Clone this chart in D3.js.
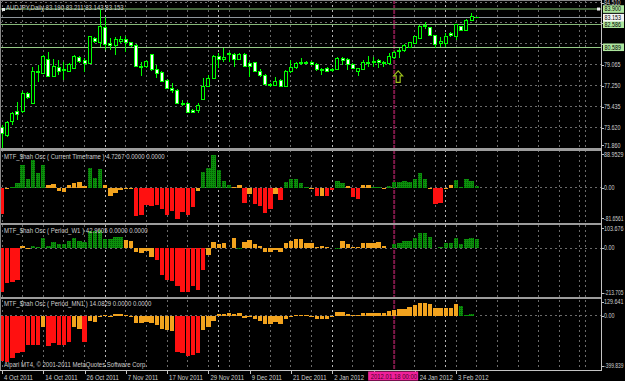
<!DOCTYPE html>
<html>
<head>
<meta charset="utf-8">
<script src="https://cdn.jsdelivr.net/npm/d3@7/dist/d3.min.js"></script>
<style>
	body { margin: 0; background: #000; }
	svg { display: block; }
	text { font-family: 'Liberation Sans', Arial, sans-serif; font-size: 7px; }
	text.ax { font-size: 6.4px; }
</style>
</head>
<body>
<script>
// AUDJPY daily, bar 0 = 4 Oct 2011
const open = [73.62, 72.98, 74.14, 74.98, 75.01, 76.59, 75.73, 78.47, 78.33, 79.54, 78.04, 78.82, 78.56, 78.53, 78.76, 79.71, 79.40, 79.19, 81.36, 80.98, 82.31, 80.93, 80.70, 81.07, 81.30, 80.98, 80.78, 78.85, 78.90, 79.92, 78.62, 78.41, 77.69, 77.03, 76.88, 75.73, 75.73, 75.09, 75.09, 76.07, 77.17, 77.89, 79.77, 79.54, 80.06, 79.92, 79.54, 79.92, 79.19, 79.25, 78.53, 78.13, 77.40, 77.26, 77.69, 77.23, 78.47, 78.82, 79.19, 79.31, 79.28, 79.11, 78.56, 78.76, 78.59, 78.67, 79.63, 79.54, 79.11, 78.47, 78.67, 79.22, 79.25, 79.43, 79.22, 79.14, 79.71, 80.35, 80.29, 80.58, 80.93, 81.36, 82.49, 82.31, 81.59, 80.93, 80.93, 81.79, 81.56, 82.37, 82.03, 82.95, 83.190]
const high = [73.85, 74.23, 75.01, 75.87, 76.83, 76.71, 78.90, 79.05, 79.92, 80.21, 79.54, 79.48, 79.34, 79.19, 79.92, 79.83, 79.63, 81.56, 81.51, 83.90, 83.18, 81.36, 81.51, 81.56, 81.56, 81.07, 80.87, 79.34, 79.48, 79.97, 79.05, 78.56, 77.81, 77.46, 77.00, 76.02, 75.84, 75.21, 75.73, 77.89, 78.18, 79.92, 80.06, 80.49, 80.21, 80.06, 80.12, 80.06, 79.34, 79.34, 78.67, 78.27, 77.52, 78.04, 77.81, 78.62, 79.48, 79.34, 79.63, 79.43, 79.40, 79.19, 78.76, 78.85, 78.82, 79.71, 79.77, 79.63, 79.19, 78.82, 79.48, 79.83, 79.71, 79.54, 79.37, 80.12, 80.29, 80.49, 80.84, 81.07, 81.59, 82.52, 82.80, 82.37, 81.68, 81.51, 81.79, 81.94, 82.60, 82.46, 83.04, 83.59, 83.211]
const low = [71.88, 72.78, 73.85, 74.28, 74.92, 76.13, 75.67, 77.61, 78.27, 77.98, 77.98, 78.18, 77.75, 78.44, 78.70, 79.25, 78.47, 79.14, 80.93, 80.64, 80.35, 80.35, 79.92, 80.93, 80.21, 80.64, 78.85, 78.10, 78.76, 78.56, 77.89, 77.61, 76.94, 76.59, 75.64, 75.50, 74.86, 74.86, 74.92, 76.02, 77.11, 77.81, 78.76, 79.34, 79.34, 78.90, 79.48, 78.85, 78.04, 78.41, 77.98, 77.32, 77.11, 77.20, 77.11, 77.17, 78.38, 78.73, 79.05, 79.11, 79.02, 78.53, 78.18, 78.44, 78.47, 78.62, 79.05, 78.62, 78.67, 78.10, 78.62, 78.90, 78.90, 78.76, 78.90, 79.05, 79.54, 79.63, 80.21, 80.49, 80.84, 81.27, 82.20, 81.59, 80.55, 80.64, 80.64, 81.45, 81.22, 81.99, 81.97, 82.86, 83.143]
const close = [73.13, 74.05, 74.86, 74.74, 76.59, 76.25, 78.47, 78.36, 79.77, 78.04, 78.90, 78.53, 78.67, 79.11, 79.77, 79.34, 79.19, 81.51, 81.07, 82.37, 80.87, 80.78, 81.22, 81.22, 80.98, 80.78, 78.90, 78.96, 79.34, 78.62, 78.33, 77.66, 77.03, 76.88, 75.73, 75.61, 74.92, 74.92, 75.50, 77.23, 77.89, 79.83, 79.54, 79.69, 79.92, 79.57, 79.97, 78.90, 78.96, 78.47, 78.13, 77.37, 77.29, 77.66, 77.23, 78.53, 78.82, 79.19, 79.31, 79.22, 79.11, 78.62, 78.67, 78.53, 78.70, 79.63, 79.48, 79.11, 78.76, 78.76, 79.28, 79.31, 79.34, 79.25, 79.31, 79.77, 80.15, 80.21, 80.70, 80.98, 81.51, 82.43, 82.37, 81.65, 80.84, 81.07, 81.56, 81.62, 82.52, 82.08, 82.95, 83.24, 83.153]

// MTF_$hah Osc, three timeframes; colour code g = green, o = orange, r = red
const oscCur = [-63, -0.8, 2, 12, 55, 22, 67, 35, 55, 7.6, 10, -7.6, -10, 7.6, 11, 13.5, 5, 49, 24, 45, 6, -19, -12, -6, -4, -4, -69, -67, -41, -44, -41, -51, -65, -56, -75, -58, -67, -47, -8, 37, 47, 79, 43, 17, 6, 3, 7, -36, -15, -40, -44, -60, -51, -14, -30, 15, 22, 21, 12, 2, -2, -21, -20, -20, -5, 17, 11, 4, -22, -27, 6, 7, 1, 2, -2, 4, 13, 15, 17, 15, 20, 35, 20, -0.8, -40, -38, -2, 7, 19, 3, 20, 17, 4.7267]
const oscCurColor = 'roggggggg oooooooo gggo ooooo rrrrrrrrrrrr o ggggggoo rorrrror ggggg ororr ggo rroo ggoggggggggo rroo ggggg'.replace(/ /g, '')
const oscW1 = [-194, -157, -150, -142, 10, 2, 9, 6, 44, 9, 27, 19, 19, 31, 45, 33, 28, 77, 77, 82, 40, 39, 49, 51, 37, 34, -18, -22, -12, -40, -53, -119, -142, -145, -171, -198, -196, -171, -186, -97, -30, 27, 19, 21, 3, 45, 1, 27, 36, 19, 10, -15, -18, -6, -18, 21, 30, 39, 39, 24, 21, 6, 9, 4, 3, 2, 30, 18, 4, 4, 21, 21, 21, 27, 12, 3, 18, 22, 33, 31, 45, 68, 67, 49, 3, 6, 24, 24, 46, 18, 42, 45, 42.9605]
const oscW1Color = 'rrrr oo gggggggggggggggggg oooooo rrrrrrrrrr o ooo g o g oooooooooooooooooo g ooooooooo g ggggggggggggggggg'.replace(/ /g, '')
const oscMN1 = [-339, -351, -314, -282, -270, -216, -216, -216, -81, -228, -208, -216, -216, -199, -86, -100, -196, -39, -49, -12, 7, -7, 10, 10, 5, -2, -56, -56, -49, -56, -73, -98, -110, -115, -272, -282, -301, -294, -282, -110, -81, -37, 10, 10, 17, 10, 17, -15, -7, -25, -37, -61, -61, -49, -61, -25, -12, 5, 2, 5, -7, -25, -25, -25, -2, 27, 27, 12, 7, 2, 17, 17, 17, 22, 17, 34, 42, 49, 54, 66, 78, 98, 98, 86, 61, 61, 61, 61, 86, 74, 3, 12, 14.0829]
const oscMN1Color = 'rrrrrrrr o rrrrr oo r ooooooooooooooooo rrrrr oooooooooooooooooooooooooooooooooooooooooooooooooo ggg'.replace(/ /g, '')

const oscNames = ['Current Timeframe', 'Period_W1', 'Period_MN1']
const oscRanges = [[-81.6561, 88.9529], [-213.705, 103.676], [-399.839, 129.641]]

const priceRange = [71.860, 84.510]
const priceTicks = [84.510, 82.695, 80.880, 79.065, 77.250, 75.435, 73.620]
const levelPrices = [83.900, 82.586, 80.589]
const bidPrice = 83.153

const timeLabels = ['4 Oct 2011', '14 Oct 2011', '26 Oct 2011', '7 Nov 2011', '17 Nov 2011', '29 Nov 2011', '9 Dec 2011', '21 Dec 2011', '2 Jan 2012', '12 Jan 2012', '24 Jan 2012', '3 Feb 2012']
const timeLabelBars = [0, 8, 16, 24, 32, 40, 48, 56, 64, 72, 80, 88]
const monthStartBars = [20, 42, 64, 86]
const markerBar = 76
const markerLabel = '2012.01.18 00:00'
const arrowPrice = 78.55
const shiftBar = 113

const W = 625, H = 381
const axisX = 601, axisY = 370
const barStep = 5.16
const squeeze = 0.86

const svg = d3.select('body').append('svg').attr('width', W).attr('height', H)
	.style('background', '#000')

// narrow the small MT4 style text with a horizontal scale, never past maxX
function condense(sel, k = squeeze, maxX = W - 1) {
	sel.each(function () {
		const len = this.getComputedTextLength()
		const x0 = +this.getAttribute('x'), y0 = +this.getAttribute('y')
		const f = Math.min(k, (maxX - x0) / len)
		d3.select(this).attr('x', 0).attr('y', 0)
			.attr('transform', `translate(${x0},${y0}) scale(${f},1)`)
	})
	return sel
}

const defs = svg.append('defs')
const pat = defs.append('pattern').attr('id', 'gdots').attr('width', 2).attr('height', 2)
	.attr('patternUnits', 'userSpaceOnUse')
pat.append('rect').attr('width', 2).attr('height', 2).attr('fill', '#0b900b')
pat.append('rect').attr('width', 1).attr('height', 1).attr('fill', '#045a04')

const x = d3.scaleLinear().domain([0, 1]).range([2, 2 + barStep])
const y = d3.scaleLinear().domain(priceRange).range([148, 2])
const panes = [[221.5, 151], [296, 225], [369, 298.5]]
const oy = oscRanges.map((r, k) => d3.scaleLinear().domain(r).range(panes[k]))

const grid = svg.append('g').attr('shape-rendering', 'crispEdges')

// vertical grid every 4 bars
const gridBars = d3.range(0, 120, 4).filter(b => x(b) < axisX - 2)
grid.selectAll('line.vg').data(gridBars.concat([shiftBar])).join('line')
	.attr('x1', d => x(d)).attr('x2', d => x(d)).attr('y1', 0).attr('y2', axisY)
	.attr('stroke', '#6a6a6a').attr('stroke-dasharray', '2,3')
// month separators
grid.selectAll('line.ms').data(monthStartBars).join('line')
	.attr('x1', d => x(d)).attr('x2', d => x(d)).attr('y1', 0).attr('y2', axisY)
	.attr('stroke', '#b4b4b4').attr('stroke-dasharray', '2,3')
// horizontal grid
grid.selectAll('line.hg').data(priceTicks).join('line')
	.attr('x1', 0).attr('x2', axisX).attr('y1', d => y(d)).attr('y2', d => y(d))
	.attr('stroke', '#6a6a6a').attr('stroke-dasharray', '2,3')
grid.selectAll('line.zero').data(oy).join('line')
	.attr('x1', 0).attr('x2', axisX).attr('y1', d => d(0)).attr('y2', d => d(0))
	.attr('stroke', '#6a6a6a').attr('stroke-dasharray', '2,3')

// marker vertical line
svg.append('line').attr('x1', x(markerBar)).attr('x2', x(markerBar)).attr('y1', 0).attr('y2', axisY)
	.attr('stroke', '#7d1848').attr('stroke-width', 2).attr('stroke-dasharray', '4,1')

// level lines
const lvl = svg.append('g').attr('shape-rendering', 'crispEdges')
const levelColors = ['#45663c', '#86b878', '#96cc86']
lvl.selectAll('line').data(levelPrices).join('line')
	.attr('x1', 1).attr('x2', axisX).attr('y1', d => y(d)).attr('y2', d => y(d))
	.attr('stroke', (d, i) => levelColors[i]).attr('stroke-width', (d, i) => i === 0 ? 2 : 1)
lvl.append('line').attr('x1', 1).attr('x2', axisX).attr('y1', y(bidPrice)).attr('y2', y(bidPrice))
	.attr('stroke', '#8f969c')

// candles
const bars = open.map((o, i) => ({ i, o, h: high[i], l: low[i], c: close[i] }))
const cg = svg.append('g').attr('shape-rendering', 'crispEdges')
cg.selectAll('line').data(bars).join('line')
	.attr('x1', d => x(d.i)).attr('x2', d => x(d.i))
	.attr('y1', d => y(d.h)).attr('y2', d => y(d.l))
	.attr('stroke', '#00ff00')
cg.selectAll('rect').data(bars).join('rect')
	.attr('x', d => x(d.i) - 1.5).attr('width', 3)
	.attr('y', d => y(Math.max(d.o, d.c)))
	.attr('height', d => Math.max(0.5, Math.abs(y(d.o) - y(d.c))))
	.attr('fill', d => d.c >= d.o ? '#000' : '#fff')
	.attr('stroke', '#00ff00')

// arrow object
const ax = x(markerBar) + 4, ay = y(arrowPrice)
svg.append('path')
	.attr('d', `M${ax},${ay} L${ax + 4.5},${ay + 5} L${ax + 2},${ay + 5} L${ax + 2},${ay + 11.5} L${ax - 2},${ay + 11.5} L${ax - 2},${ay + 5} L${ax - 4.5},${ay + 5} Z`)
	.attr('fill', 'none').attr('stroke', '#9cbf1c').attr('stroke-width', 1.2)

// oscillator histograms
const colorOf = { g: 'url(#gdots)', o: '#f2a31e', r: '#ff1010' }
const oscData = [[oscCur, oscCurColor], [oscW1, oscW1Color], [oscMN1, oscMN1Color]]
oscData.forEach(([vals, cols], k) => {
	const s = oy[k]
	svg.append('g').attr('shape-rendering', 'crispEdges')
		.selectAll('rect').data(vals).join('rect')
		.attr('x', (d, i) => x(i) - 2.2).attr('width', 4.4)
		.attr('y', d => s(Math.max(d, 0)))
		.attr('height', d => Math.max(0.8, Math.abs(s(d) - s(0))))
		.attr('fill', (d, i) => colorOf[cols[i]])
})

// pane separators and frame
const frame = svg.append('g').attr('shape-rendering', 'crispEdges')
frame.selectAll('rect.sep').data([148, 222.5, 296.5]).join('rect')
	.attr('x', 0).attr('width', axisX + 1).attr('y', d => d).attr('height', 2.5)
	.attr('fill', '#9c9c9c')
frame.append('line').attr('x1', axisX + 0.5).attr('x2', axisX + 0.5).attr('y1', 0).attr('y2', axisY + 0.5)
	.attr('stroke', '#c4c4c4')
frame.append('line').attr('x1', 0).attr('x2', axisX + 0.5).attr('y1', axisY + 0.5).attr('y2', axisY + 0.5)
	.attr('stroke', '#c4c4c4')
frame.append('line').attr('x1', 0.5).attr('x2', 0.5).attr('y1', 0).attr('y2', axisY)
	.attr('stroke', '#8a8a8a')
frame.append('line').attr('x1', 0).attr('x2', axisX).attr('y1', 0.5).attr('y2', 0.5)
	.attr('stroke', '#8a8a8a')

// texts
const txt = '#cfcfcf'
svg.append('rect').attr('x', 2).attr('y', 8).attr('width', 3).attr('height', 3).attr('fill', '#e8e8e8')
condense(svg.append('text').attr('x', 6).attr('y', 9.5).attr('fill', txt)
	.text(`AUDJPY,Daily  ${open[92].toFixed(3)} ${high[92].toFixed(3)} ${low[92].toFixed(3)} ${close[92].toFixed(3)}`))
const oscLast = [oscCur, oscW1, oscMN1].map(a => a[a.length - 1])
condense(svg.selectAll('text.osc').data(oscNames).join('text')
	.attr('x', 4).attr('y', (d, k) => panes[k][1] + 7.5).attr('fill', txt)
	.text((d, k) => `MTF_$hah Osc ( ${d} )  ${oscLast[k].toFixed(4)} 0.0000 0.0000`))
condense(svg.append('text').attr('x', 4).attr('y', 367).attr('fill', txt)
	.text('Alpari MT4, © 2001-2011 MetaQuotes Software Corp.'))

// price axis labels (those under a level box are hidden, as on the terminal)
const boxPrices = levelPrices.concat([bidPrice])
const clampY = (v, top, bot) => Math.max(top + 3.2, Math.min(bot - 3.2, v))
const axisLabels = []
priceTicks.concat([priceRange[0]]).forEach(p => {
	const py = clampY(y(p), -0.5, 148.5)
	const covered = boxPrices.some(b => Math.abs(y(b) - py) < 5)
	axisLabels.push({ t: p.toFixed(3), y: py, covered })
})
oscRanges.forEach((r, k) => {
	const s = oy[k], top = panes[k][1], bot = panes[k][0]
	const dec = k === 0 ? 4 : 3
	axisLabels.push({ t: r[1].toFixed(dec), y: clampY(s(r[1]), top, bot) })
	axisLabels.push({ t: '0.00', y: s(0) })
	axisLabels.push({ t: r[0].toFixed(dec), y: clampY(s(r[0]), top, bot) })
})
const al = svg.append('g')
al.selectAll('line').data(axisLabels).join('line')
	.attr('x1', axisX).attr('x2', axisX + 3).attr('y1', d => Math.round(d.y) + 0.5).attr('y2', d => Math.round(d.y) + 0.5)
	.attr('stroke', '#c4c4c4')
condense(al.selectAll('text').data(axisLabels.filter(d => !d.covered)).join('text').attr('class', 'ax')
	.attr('x', axisX + 3).attr('y', d => d.y + 2.3).attr('fill', txt).text(d => d.t), 0.84, W - 1.5)

// level boxes on price axis
const boxes = levelPrices.map((p, i) => ({ p, fill: '#aee69e', ink: '#000' }))
boxes.push({ p: bidPrice, fill: '#f4f4f4', ink: '#000' })
const bx = svg.append('g')
bx.selectAll('rect').data(boxes).join('rect')
	.attr('x', axisX + 2).attr('width', 21).attr('y', d => y(d.p) - 3.8).attr('height', 7.6)
	.attr('fill', d => d.fill)
condense(bx.selectAll('text').data(boxes).join('text').attr('class', 'ax')
	.attr('x', axisX + 3.5).attr('y', d => y(d.p) + 2.3).attr('fill', d => d.ink).text(d => d.p.toFixed(3)), 0.84, W - 2.5)
svg.append('rect').attr('x', axisX - 4).attr('y', y(levelPrices[0]) - 1.5).attr('width', 3).attr('height', 3)
	.attr('fill', '#f0f0f0')

// time axis
const boxL = x(markerBar) - 26, boxR = x(markerBar) + 24
const ta = svg.append('g')
ta.selectAll('line').data(timeLabelBars).join('line')
	.attr('x1', d => Math.round(x(d)) + 0.5).attr('x2', d => Math.round(x(d)) + 0.5)
	.attr('y1', axisY).attr('y2', axisY + 4).attr('stroke', '#c4c4c4')
// labels that would sit fully under the marker box are not shown
const shown = timeLabelBars.map((b, i) => ({ b, t: timeLabels[i] }))
	.filter(d => !(x(d.b) > boxL && x(d.b) < boxR - 8))
condense(ta.selectAll('text').data(shown).join('text')
	.attr('x', d => Math.max(x(d.b) + 2, d.b > markerBar ? boxR + 1.5 : 0)).attr('y', 379.5).attr('fill', txt).text(d => d.t))
ta.append('rect').attr('x', boxL).attr('y', 371.5).attr('width', boxR - boxL).attr('height', 9)
	.attr('fill', '#f0209a')
condense(ta.append('text').attr('x', boxL + 2.5).attr('y', 379)
	.attr('fill', '#4a0028').text(markerLabel), squeeze, boxR - 1)
</script>
</body>
</html>
